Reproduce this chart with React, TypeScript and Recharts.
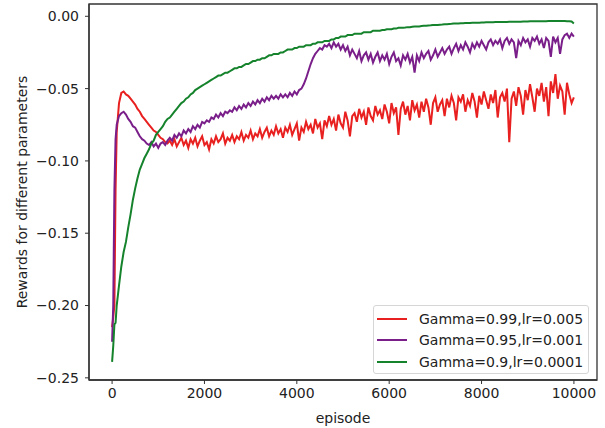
import { LineChart, Line, XAxis, YAxis, ReferenceArea } from "recharts";

const episodes = [
  0, 25, 50, 75,
  100, 150, 200, 250, 300, 350, 400, 450, 500, 550, 600, 650, 700, 750, 800, 850, 900, 950,
  1000, 1050, 1100, 1150, 1200,
  1250, 1300, 1350, 1400, 1450, 1500, 1550, 1600, 1650, 1700,
  1750, 1800, 1850, 1900, 1950, 2000, 2050, 2100, 2150, 2200,
  2250, 2300, 2350, 2400, 2450, 2500, 2550, 2600, 2650, 2700,
  2750, 2800, 2850, 2900, 2950, 3000, 3050, 3100, 3150, 3200,
  3250, 3300, 3350, 3400, 3450, 3500, 3550, 3600, 3650, 3700,
  3750, 3800, 3850, 3900, 3950, 4000, 4050, 4100, 4150, 4200,
  4250, 4300, 4350, 4400, 4450, 4500, 4550, 4600, 4650, 4700,
  4750, 4800, 4850, 4900, 4950, 5000, 5050, 5100, 5150, 5200,
  5250, 5300, 5350, 5400, 5450, 5500, 5550, 5600, 5650, 5700,
  5750, 5800, 5850, 5900, 5950, 6000, 6050, 6100, 6150, 6200,
  6250, 6300, 6350, 6400, 6450, 6500, 6550, 6600, 6650, 6700,
  6750, 6800, 6850, 6900, 6950, 7000, 7050, 7100, 7150, 7200,
  7250, 7300, 7350, 7400, 7450, 7500, 7550, 7600, 7650, 7700,
  7750, 7800, 7850, 7900, 7950, 8000, 8050, 8100, 8150, 8200,
  8250, 8300, 8350, 8400, 8450, 8500, 8550, 8600, 8650, 8700,
  8750, 8800, 8850, 8900, 8950, 9000, 9050, 9100, 9150, 9200,
  9250, 9300, 9350, 9400, 9450, 9500, 9550, 9600, 9650, 9700,
  9750, 9800, 9850, 9900, 9950,
  9999,
];

// Gamma=0.99, lr=0.005
const redValues = [
  -0.215, -0.208, -0.2, -0.12,
  -0.08, -0.06, -0.053, -0.052, -0.054, -0.055, -0.057, -0.059, -0.061, -0.064, -0.066, -0.069, -0.071, -0.073, -0.075, -0.077, -0.079, -0.08,
  -0.082, -0.084, -0.085, -0.087, -0.088,
  -0.086, -0.089, -0.085, -0.09, -0.087, -0.084, -0.089, -0.086, -0.091, -0.085,
  -0.088, -0.084, -0.09, -0.086, -0.083, -0.089, -0.087, -0.092, -0.085, -0.088,
  -0.083, -0.087, -0.085, -0.081, -0.088, -0.084, -0.086, -0.082, -0.087, -0.083,
  -0.085, -0.08, -0.086, -0.082, -0.084, -0.079, -0.085, -0.081, -0.083, -0.078,
  -0.084, -0.08, -0.077, -0.083, -0.079, -0.082, -0.076, -0.081, -0.078, -0.084,
  -0.077, -0.08, -0.075, -0.082, -0.078, -0.074, -0.086, -0.077, -0.08, -0.073,
  -0.078, -0.075, -0.081, -0.071, -0.077, -0.074, -0.085, -0.072, -0.076, -0.069,
  -0.075, -0.071, -0.079, -0.068, -0.074, -0.077, -0.066, -0.072, -0.083, -0.069,
  -0.067, -0.073, -0.064, -0.07, -0.066, -0.075, -0.063, -0.069, -0.072, -0.062,
  -0.068, -0.065, -0.071, -0.061, -0.066, -0.074, -0.06, -0.067, -0.063, -0.082,
  -0.064, -0.059, -0.068, -0.062, -0.072, -0.058, -0.065, -0.061, -0.07, -0.059,
  -0.066, -0.057, -0.063, -0.075, -0.06, -0.056, -0.066, -0.061, -0.058, -0.069,
  -0.057, -0.063, -0.055, -0.06, -0.072, -0.056, -0.059, -0.054, -0.066, -0.058,
  -0.062, -0.053, -0.059, -0.07, -0.055, -0.061, -0.052, -0.058, -0.064, -0.054,
  -0.06, -0.051, -0.07, -0.056, -0.053, -0.059, -0.05, -0.087, -0.057, -0.052,
  -0.062, -0.049, -0.055, -0.068, -0.051, -0.058, -0.047, -0.056, -0.066, -0.05,
  -0.055, -0.046, -0.059, -0.049, -0.069, -0.045, -0.053, -0.04, -0.057, -0.048,
  -0.052, -0.068, -0.046, -0.054, -0.06,
  -0.056,
];

// Gamma=0.95, lr=0.001
const purpleValues = [
  -0.225, -0.2, -0.12, -0.085,
  -0.075, -0.069, -0.067, -0.066, -0.068, -0.071, -0.073, -0.076, -0.077, -0.08, -0.083, -0.085, -0.086, -0.088, -0.089, -0.087, -0.09, -0.088,
  -0.091, -0.088, -0.087, -0.089, -0.086,
  -0.084, -0.086, -0.082, -0.084, -0.081, -0.083, -0.079, -0.081, -0.078, -0.08,
  -0.076, -0.078, -0.075, -0.077, -0.073, -0.074, -0.072, -0.073, -0.07, -0.071,
  -0.068, -0.07, -0.067, -0.069, -0.066, -0.067, -0.065, -0.066, -0.063, -0.065,
  -0.062, -0.064, -0.061, -0.063, -0.06, -0.062, -0.059, -0.061, -0.058, -0.06,
  -0.057, -0.059, -0.056, -0.058, -0.055, -0.057, -0.055, -0.057, -0.054, -0.056,
  -0.054, -0.056, -0.053, -0.055, -0.052, -0.054, -0.051, -0.05, -0.047, -0.043,
  -0.038, -0.033, -0.029, -0.026, -0.024, -0.022, -0.023, -0.02, -0.021, -0.019,
  -0.022, -0.018, -0.021, -0.019, -0.023, -0.02, -0.024, -0.021, -0.027, -0.023,
  -0.026, -0.029, -0.024, -0.031, -0.027, -0.025, -0.03, -0.026, -0.032, -0.028,
  -0.025, -0.031, -0.027, -0.03, -0.026, -0.033, -0.028, -0.025, -0.031, -0.029,
  -0.034, -0.027, -0.03, -0.026, -0.032, -0.028, -0.039, -0.027, -0.031, -0.025,
  -0.029, -0.026, -0.024, -0.03, -0.027, -0.023, -0.028, -0.025, -0.022, -0.026,
  -0.023, -0.021, -0.026, -0.022, -0.019, -0.024, -0.02, -0.023, -0.018, -0.021,
  -0.025, -0.019, -0.022, -0.018, -0.021, -0.017, -0.02, -0.023, -0.018, -0.016,
  -0.02, -0.017, -0.019, -0.016, -0.022, -0.017, -0.015, -0.019, -0.016, -0.018,
  -0.029, -0.017, -0.02, -0.015, -0.018, -0.016, -0.021, -0.015, -0.017, -0.014,
  -0.019, -0.016, -0.022, -0.015, -0.017, -0.028, -0.014, -0.018, -0.015, -0.026,
  -0.016, -0.013, -0.012, -0.015, -0.012,
  -0.014,
];

// Gamma=0.9, lr=0.0001
const greenValues = [
  -0.239, -0.228, -0.213, -0.212,
  -0.2, -0.186, -0.173, -0.163, -0.156, -0.146, -0.137, -0.127, -0.119, -0.112, -0.106, -0.102, -0.098, -0.095, -0.092, -0.088, -0.086, -0.082,
  -0.08, -0.078, -0.076, -0.073, -0.071,
  -0.07, -0.068, -0.066, -0.064, -0.062, -0.06, -0.059, -0.057, -0.056, -0.054,
  -0.053, -0.051, -0.05, -0.049, -0.048, -0.047, -0.046, -0.045, -0.044, -0.043,
  -0.042, -0.041, -0.041, -0.04, -0.039, -0.039, -0.038, -0.037, -0.036, -0.036,
  -0.035, -0.035, -0.034, -0.033, -0.033, -0.032, -0.031, -0.031, -0.03, -0.03,
  -0.029, -0.029, -0.028, -0.027, -0.027, -0.026, -0.026, -0.026, -0.025, -0.025,
  -0.024, -0.023, -0.023, -0.023, -0.022, -0.022, -0.021, -0.021, -0.021, -0.02,
  -0.02, -0.02, -0.019, -0.019, -0.018, -0.018, -0.018, -0.017, -0.017, -0.017,
  -0.016, -0.016, -0.015, -0.015, -0.014, -0.014, -0.014, -0.013, -0.013, -0.013,
  -0.012, -0.012, -0.012, -0.012, -0.011, -0.011, -0.011, -0.011, -0.01, -0.01,
  -0.01, -0.01, -0.0095, -0.0095, -0.009, -0.009, -0.009, -0.0085, -0.0085, -0.008,
  -0.008, -0.008, -0.0078, -0.0075, -0.0075, -0.0072, -0.007, -0.007, -0.007, -0.0067,
  -0.0065, -0.0065, -0.0063, -0.0062, -0.006, -0.006, -0.006, -0.0058, -0.0057, -0.0055,
  -0.0055, -0.0053, -0.0052, -0.005, -0.005, -0.005, -0.0048, -0.0048, -0.0047, -0.0046,
  -0.0046, -0.0045, -0.0045, -0.0044, -0.0044, -0.0043, -0.0043, -0.0042, -0.0042, -0.0041,
  -0.0041, -0.004, -0.004, -0.004, -0.0039, -0.0039, -0.0039, -0.0038, -0.0038, -0.0038,
  -0.0037, -0.0037, -0.0037, -0.0036, -0.0036, -0.0036, -0.0035, -0.0035, -0.0035, -0.0035,
  -0.0034, -0.0034, -0.0034, -0.0034, -0.0033, -0.0033, -0.0033, -0.0033, -0.0033, -0.0033,
  -0.0033, -0.0033, -0.0034, -0.0034, -0.0036,
  -0.005,
];

const xTicks = [0, 2000, 4000, 6000, 8000, 10000];
const yTicks = [-0.25, -0.2, -0.15, -0.1, -0.05, 0];

const seriesNames = [
  "Gamma=0.99,lr=0.005",
  "Gamma=0.95,lr=0.001",
  "Gamma=0.9,lr=0.0001",
];
const colors = ["#e8201f", "#7a1e8a", "#15822c"];

const X_DOMAIN = [-500, 10500];
const Y_DOMAIN = [-0.2515, 0.0085];
const FONT = "'DejaVu Sans', sans-serif";
const FS = 14;

const fmtY = (v: number) => (v < 0 ? "\u2212" : "") + Math.abs(v).toFixed(2);

// matplotlib-style legend box, lower right of the plot
function LegendBox() {
  return (
    <div
      style={{
        position: "absolute",
        left: 373,
        top: 305,
        width: 216,
        height: 69,
        border: "1px solid #d6d6d6",
        borderRadius: 3,
        background: "rgba(255,255,255,0.8)",
        boxSizing: "border-box",
        padding: "2px 0 0 3px",
        fontFamily: FONT,
        fontSize: FS,
        color: "#222",
      }}
    >
      {seriesNames.map((name, i) => (
        <div key={name} style={{ display: "flex", alignItems: "center", height: 21.5 }}>
          <span style={{ width: 30, height: 2, background: colors[i], marginRight: 12 }} />
          <span>{name}</span>
        </div>
      ))}
    </div>
  );
}

export default function App() {
  const data = episodes.map((e, i) => ({
    episode: e,
    red: redValues[i],
    purple: purpleValues[i],
    green: greenValues[i],
  }));

  return (
    <div style={{ position: "absolute", left: 0, top: 0, width: 605, height: 428, background: "#fff" }}>
      <LineChart
        width={605}
        height={428}
        data={data}
        margin={{ top: 4, right: 8, left: 0, bottom: 0 }}
      >
        <XAxis
          dataKey="episode"
          type="number"
          domain={X_DOMAIN}
          ticks={xTicks}
          height={48}
          axisLine={{ stroke: "#333", strokeWidth: 1.3 }}
          tickLine={{ stroke: "#333" }}
          tickSize={4}
          tickMargin={4}
          tick={{ fill: "#222", fontSize: FS, fontFamily: FONT }}
          label={{ value: "episode", position: "insideBottom", offset: 5, fill: "#222", fontSize: FS, fontFamily: FONT }}
          allowDataOverflow
        />
        <YAxis
          type="number"
          domain={Y_DOMAIN}
          ticks={yTicks}
          width={89}
          tickFormatter={fmtY}
          axisLine={{ stroke: "#333", strokeWidth: 1.3 }}
          tickLine={{ stroke: "#333" }}
          tickSize={4}
          tickMargin={6}
          tick={{ fill: "#222", fontSize: FS, fontFamily: FONT }}
          label={{
            value: "Rewards for different parameters",
            angle: -90,
            position: "insideLeft",
            offset: 22,
            style: { textAnchor: "middle" },
            fill: "#222",
            fontSize: FS,
            fontFamily: FONT,
          }}
          allowDataOverflow
        />
        <ReferenceArea
          x1={X_DOMAIN[0]}
          x2={X_DOMAIN[1]}
          y1={Y_DOMAIN[0]}
          y2={Y_DOMAIN[1]}
          fill="none"
          stroke="#333"
          strokeWidth={1.3}
          fillOpacity={0}
        />
        <Line type="linear" dataKey="red" name={seriesNames[0]} stroke={colors[0]} strokeWidth={2} dot={false} isAnimationActive={false} />
        <Line type="linear" dataKey="purple" name={seriesNames[1]} stroke={colors[1]} strokeWidth={2} dot={false} isAnimationActive={false} />
        <Line type="linear" dataKey="green" name={seriesNames[2]} stroke={colors[2]} strokeWidth={2} dot={false} isAnimationActive={false} />
      </LineChart>
      <LegendBox />
    </div>
  );
}
